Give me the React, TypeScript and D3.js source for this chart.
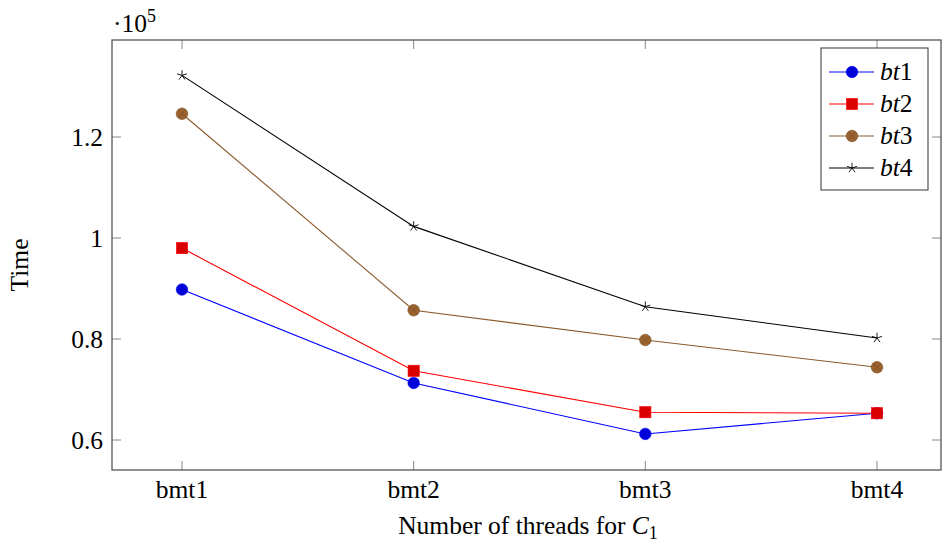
import React from "react";
import * as d3 from "d3";

const categories = ["bmt1", "bmt2", "bmt3", "bmt4"];
const seriesNames = ["bt1", "bt2", "bt3", "bt4"];
const bt1 = [0.898, 0.713, 0.612, 0.653];
const bt2 = [0.98, 0.737, 0.655, 0.653];
const bt3 = [1.246, 0.857, 0.798, 0.744];
const bt4 = [1.322, 1.023, 0.864, 0.802];
const yTicks = [0.6, 0.8, 1.0, 1.2];
const yTickLabels = ["0.6", "0.8", "1", "1.2"];

const seriesValues = [bt1, bt2, bt3, bt4];
const colors = ["#0000ff", "#ff0000", "#8c5a2d", "#000000"];

const W = 942;
const H = 544;
const left = 112;
const right = 941;
const top = 40;
const bottom = 470;

const serif = "'Liberation Serif', 'DejaVu Serif', serif";
const fs = 25.5;

function Marker({ kind, x, y }: { kind: number; x: number; y: number }) {
  if (kind === 0) return <circle cx={x} cy={y} r={5.8} fill="#0000d8" stroke="#0000ff" strokeWidth={0.6} />;
  if (kind === 1)
    return <rect x={x - 5.6} y={y - 5.6} width={11.2} height={11.2} fill="#d80000" stroke="#ff0000" strokeWidth={0.6} />;
  if (kind === 2) {
    const r = 5.8;
    const k = r * 0.7071;
    return (
      <g>
        <circle cx={x} cy={y} r={r} fill="#99622e" stroke="#7a4b22" strokeWidth={0.6} />
        <path d={`M${x - k},${y - k}L${x + k},${y + k}M${x - k},${y + k}L${x + k},${y - k}`} stroke="#7a4b22" strokeWidth={0.6} />
      </g>
    );
  }
  const r = 5.2;
  const pts = d3.range(5).map((i) => {
    const a = -Math.PI / 2 + (i * 2 * Math.PI) / 5;
    return `M${x},${y}L${x + r * Math.cos(a)},${y + r * Math.sin(a)}`;
  });
  return <path d={pts.join("")} stroke="#000" strokeWidth={0.9} fill="none" />;
}

export default function App() {
  const x = d3.scalePoint<string>().domain(categories).range([182, 877]);
  const y = d3.scaleLinear().domain([0.6, 1.2]).range([440, 137]);
  const line = d3
    .line<number>()
    .x((_, i) => x(categories[i]) as number)
    .y((d) => y(d));

  const legX = 821;
  const legY = 48;
  const legW = 107;
  const legH = 142;
  const rowY = (i: number) => legY + 24 + i * 32;

  return (
    <svg width={W} height={H} style={{ position: "absolute", left: 0, top: 0, background: "#fff" }}>
      {/* tick marks, inner on all four sides */}
      {categories.map((c) => (
        <g key={c} stroke="#888" strokeWidth={1}>
          <line x1={x(c)} x2={x(c)} y1={bottom} y2={bottom - 9} />
          <line x1={x(c)} x2={x(c)} y1={top} y2={top + 9} />
        </g>
      ))}
      {yTicks.map((t) => (
        <g key={t} stroke="#888" strokeWidth={1}>
          <line x1={left} x2={left + 9} y1={y(t)} y2={y(t)} />
          <line x1={right} x2={right - 9} y1={y(t)} y2={y(t)} />
        </g>
      ))}
      <rect x={left} y={top} width={right - left} height={bottom - top} fill="none" stroke="#555" strokeWidth={1.3} />

      {seriesValues.map((vals, s) => (
        <path key={s} d={line(vals) || ""} fill="none" stroke={colors[s]} strokeWidth={1.1} />
      ))}
      {seriesValues.map((vals, s) =>
        vals.map((v, i) => <Marker key={`${s}-${i}`} kind={s} x={x(categories[i]) as number} y={y(v)} />)
      )}

      {/* y tick labels */}
      {yTicks.map((t, i) => (
        <text key={t} x={left - 9} y={y(t) + 9} textAnchor="end" fontFamily={serif} fontSize={fs}>
          {yTickLabels[i]}
        </text>
      ))}
      <text x={113} y={32} fontFamily={serif} fontSize={fs}>
        ·10
        <tspan fontSize={18} dy={-10}>5</tspan>
      </text>
      {categories.map((c) => (
        <text key={c} x={x(c)} y={498} textAnchor="middle" fontFamily={serif} fontSize={fs}>
          {c}
        </text>
      ))}
      <text x={528} y={534} textAnchor="middle" fontFamily={serif} fontSize={fs}>
        Number of threads for <tspan fontStyle="italic">C</tspan>
        <tspan fontSize={18} dy={5}>1</tspan>
      </text>
      <text transform={`translate(28,265) rotate(-90)`} textAnchor="middle" fontFamily={serif} fontSize={fs}>
        Time
      </text>

      {/* legend */}
      <rect x={legX} y={legY} width={legW} height={legH} fill="#fff" stroke="#333" strokeWidth={1} />
      {seriesNames.map((n, i) => (
        <g key={n}>
          <line x1={legX + 8} x2={legX + 53} y1={rowY(i)} y2={rowY(i)} stroke={colors[i]} strokeWidth={1.1} />
          <Marker kind={i} x={legX + 31} y={rowY(i)} />
          <text y={rowY(i) + 8} fontFamily={serif} fontSize={fs} fontStyle="italic">
            <tspan x={legX + 59}>bt</tspan>
            <tspan fontStyle="normal">{n.slice(2)}</tspan>
          </text>
        </g>
      ))}
    </svg>
  );
}
